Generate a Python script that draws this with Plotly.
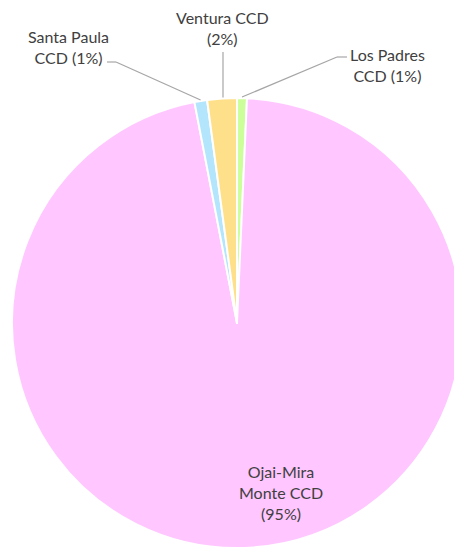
import math
import plotly.graph_objects as go

# ---- data ----
labels = ["Los Padres CCD", "Ojai-Mira Monte CCD", "Santa Paula CCD", "Ventura CCD"]
values = [0.7, 95.3, 0.9, 2.1]
pct_text = ["1%", "95%", "1%", "2%"]
colors = ["#CCFF99", "#FFC6FF", "#B3E5FC", "#FFE08A"]

OFF = 8                 # page body margin
W, H = 462 - OFF, 548 - OFF
# pie geometry (page pixels)
cx, cy, R = 237, 323, 225

def px2paper(x, y):
    return (x - OFF) / W, 1 - (y - OFF) / H

dx0, dy0 = px2paper(cx - R, cy + R)
dx1, dy1 = px2paper(cx + R, cy - R)

fig = go.Figure(go.Pie(
    labels=labels, values=values, sort=False, direction="clockwise", rotation=0,
    marker=dict(colors=colors, line=dict(color="white", width=2)),
    textinfo="none", hoverinfo="label+percent", showlegend=False,
    domain=dict(x=[max(dx0, 0), min(dx1, 1)], y=[max(dy0, 0), min(dy1, 1)]),
))

# slice mid angles from data
total = sum(values)
mids = []
acc = 0
for v in values:
    mids.append((acc + v / 2) / total * 2 * math.pi)
    acc += v

def edge(i, rr=R + 1):
    t = mids[i]
    return cx + rr * math.sin(t), cy - rr * math.cos(t)

font = dict(family="Lato, Open Sans, sans-serif", size=16, color="#404040")
line_col = "#A6A6A6"

label_text = {
    2: f"Santa Paula<br>CCD ({pct_text[2]})",
    3: f"Ventura CCD<br>({pct_text[3]})",
    0: f"Los Padres<br>CCD ({pct_text[0]})",
}
# label layout (page pixels): text centre, line start and elbow
label_layout = {
    2: dict(text_xy=(69, 47), start=(107, 62), elbow=(116, 62)),
    3: dict(text_xy=(222, 28), start=(223, 52), elbow=None),
    0: dict(text_xy=(387, 65), start=(347, 57), elbow=(337, 57)),
}

shapes = []
annotations = []
for i, cfg in label_layout.items():
    tx, ty = px2paper(*cfg["text_xy"])
    annotations.append(dict(x=tx, y=ty, xref="paper", yref="paper", text=label_text[i],
                            xanchor="center", yanchor="middle",
                            showarrow=False, font=font, align="center"))
    ex, ey = edge(i)
    if i == 3:
        pts = [cfg["start"], (cfg["start"][0], ey)]
    else:
        pts = [cfg["start"], cfg["elbow"], (ex, ey)]
    for (x0, y0), (x1, y1) in zip(pts[:-1], pts[1:]):
        a0 = px2paper(x0, y0)
        a1 = px2paper(x1, y1)
        shapes.append(dict(type="line", xref="paper", yref="paper",
                           x0=a0[0], y0=a0[1], x1=a1[0], y1=a1[1],
                           line=dict(color=line_col, width=1.2)))

# inside label for the big slice
tx, ty = px2paper(281, 492)
annotations.append(dict(x=tx, y=ty, xref="paper", yref="paper",
                        text=f"Ojai-Mira<br>Monte CCD<br>({pct_text[1]})",
                        xanchor="center", yanchor="middle",
                        showarrow=False, font=font, align="center"))

fig.update_layout(
    width=W, height=H, margin=dict(l=0, r=0, t=0, b=0),
    paper_bgcolor="white", plot_bgcolor="white",
    shapes=shapes, annotations=annotations,
)
fig.write_html("out.html")
